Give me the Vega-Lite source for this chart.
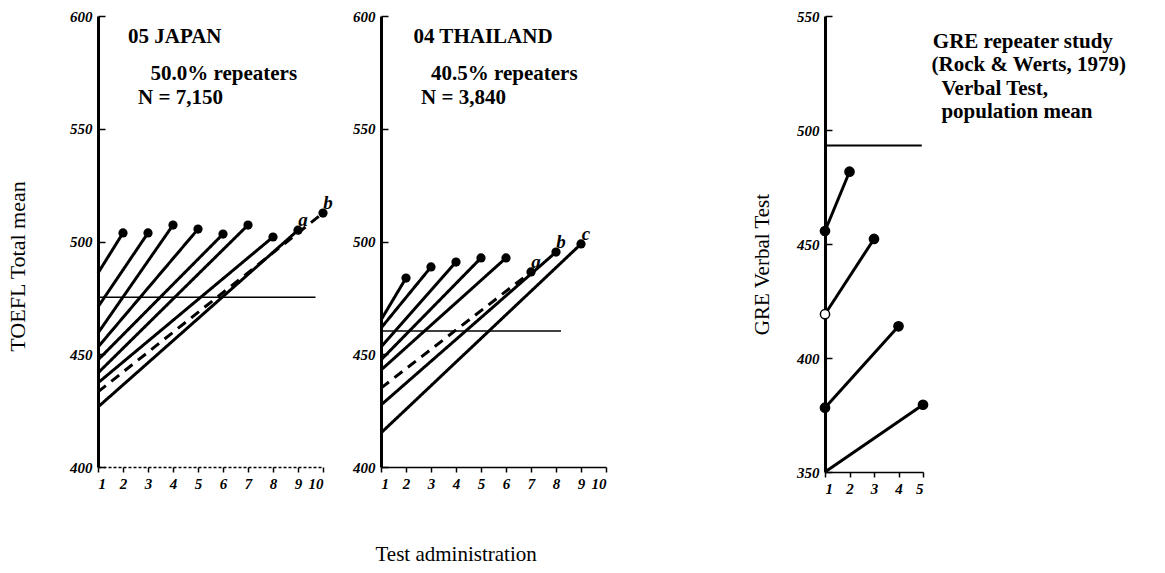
{
  "$schema": "https://vega.github.io/schema/vega-lite/v6.json",
  "background": "white",
  "padding": {"left": 6, "top": 9, "right": 5, "bottom": 5},
  "config": {
    "view": {"stroke": null},
    "font": "Liberation Serif",
    "axis": {
      "grid": false,
      "domainColor": "black",
      "tickColor": "black",
      "labelColor": "black",
      "titleColor": "black",
      "labelFont": "Liberation Serif",
      "labelFontStyle": "italic",
      "labelFontWeight": "bold",
      "labelFontSize": 15,
      "titleFont": "Liberation Serif",
      "titleFontWeight": "normal",
      "titleFontSize": 21
    },
    "axisX": {"domainWidth": 1.5, "tickWidth": 1.5, "tickSize": 5, "labelPadding": 4, "title": null},
    "axisY": {"domainWidth": 3, "tickWidth": 1.5, "tickSize": -7, "labelPadding": 13}
  },
  "datasets": {
    "curves": [
      {"panel": "Japan", "curve": "2", "test": 1, "score": 486.0},
      {"panel": "Japan", "curve": "2", "test": 2, "score": 503.8},
      {"panel": "Japan", "curve": "3", "test": 1, "score": 471.0},
      {"panel": "Japan", "curve": "3", "test": 3, "score": 503.8},
      {"panel": "Japan", "curve": "4", "test": 1, "score": 459.4},
      {"panel": "Japan", "curve": "4", "test": 4, "score": 507.3},
      {"panel": "Japan", "curve": "5", "test": 1, "score": 453.2},
      {"panel": "Japan", "curve": "5", "test": 5, "score": 505.5},
      {"panel": "Japan", "curve": "6", "test": 1, "score": 447.5},
      {"panel": "Japan", "curve": "6", "test": 6, "score": 503.3},
      {"panel": "Japan", "curve": "7", "test": 1, "score": 441.7},
      {"panel": "Japan", "curve": "7", "test": 7, "score": 507.3},
      {"panel": "Japan", "curve": "8", "test": 1, "score": 437.3},
      {"panel": "Japan", "curve": "8", "test": 8, "score": 502.0},
      {"panel": "Japan", "curve": "a", "test": 1, "score": 426.6},
      {"panel": "Japan", "curve": "a", "test": 9, "score": 505.0},
      {"panel": "Japan", "curve": "b", "test": 1, "score": 433.3},
      {"panel": "Japan", "curve": "b", "test": 10, "score": 512.6},
      {"panel": "Thailand", "curve": "2", "test": 1, "score": 465.2},
      {"panel": "Thailand", "curve": "2", "test": 2, "score": 483.8},
      {"panel": "Thailand", "curve": "3", "test": 1, "score": 461.6},
      {"panel": "Thailand", "curve": "3", "test": 3, "score": 488.7},
      {"panel": "Thailand", "curve": "4", "test": 1, "score": 453.2},
      {"panel": "Thailand", "curve": "4", "test": 4, "score": 490.9},
      {"panel": "Thailand", "curve": "5", "test": 1, "score": 447.5},
      {"panel": "Thailand", "curve": "5", "test": 5, "score": 492.7},
      {"panel": "Thailand", "curve": "6", "test": 1, "score": 443.0},
      {"panel": "Thailand", "curve": "6", "test": 6, "score": 492.7},
      {"panel": "Thailand", "curve": "a", "test": 1, "score": 435.0},
      {"panel": "Thailand", "curve": "a", "test": 7, "score": 486.5},
      {"panel": "Thailand", "curve": "b", "test": 1, "score": 427.5},
      {"panel": "Thailand", "curve": "b", "test": 8, "score": 495.3},
      {"panel": "Thailand", "curve": "c", "test": 1, "score": 415.1},
      {"panel": "Thailand", "curve": "c", "test": 9, "score": 498.9},
      {"panel": "GRE", "curve": "1", "test": 1, "score": 455.7},
      {"panel": "GRE", "curve": "1", "test": 2, "score": 481.7},
      {"panel": "GRE", "curve": "2", "test": 1, "score": 419.2},
      {"panel": "GRE", "curve": "2", "test": 3, "score": 452.2},
      {"panel": "GRE", "curve": "3", "test": 1, "score": 378.2},
      {"panel": "GRE", "curve": "3", "test": 4, "score": 413.9},
      {"panel": "GRE", "curve": "4", "test": 1, "score": 350.0},
      {"panel": "GRE", "curve": "4", "test": 5, "score": 379.5}
    ],
    "means": [
      {"panel": "Japan", "test": 1, "test_end": 9.7, "score": 475.3},
      {"panel": "Thailand", "test": 1, "test_end": 8.2, "score": 460.3},
      {"panel": "GRE", "test": 1, "test_end": 4.95, "score": 493.2}
    ],
    "notes": [
      {"panel": "Japan", "test": 2.2, "score": 590.5, "text": "05 JAPAN"},
      {"panel": "Japan", "test": 3.1, "score": 574.5, "text": "50.0% repeaters"},
      {"panel": "Japan", "test": 2.6, "score": 563.5, "text": "N = 7,150"},
      {"panel": "Thailand", "test": 2.3, "score": 590.5, "text": "04 THAILAND"},
      {"panel": "Thailand", "test": 3.0, "score": 574.5, "text": "40.5% repeaters"},
      {"panel": "Thailand", "test": 2.6, "score": 563.5, "text": "N = 3,840"},
      {"panel": "GRE", "test": 5.4, "score": 538.6, "text": "GRE repeater study"},
      {"panel": "GRE", "test": 5.35, "score": 528.5, "text": "(Rock & Werts, 1979)"},
      {"panel": "GRE", "test": 5.75, "score": 518.0, "text": "Verbal Test,"},
      {"panel": "GRE", "test": 5.75, "score": 507.9, "text": "population mean"}
    ]
  },
  "title": {
    "text": "Test administration",
    "orient": "bottom",
    "anchor": "start",
    "dx": 369,
    "offset": 48,
    "font": "Liberation Serif",
    "fontSize": 21,
    "fontWeight": "normal",
    "color": "black"
  },
  "spacing": 144,
  "hconcat": [
    {
      "spacing": 19,
      "hconcat": [
        {
          "width": 225,
          "height": 451,
          "encoding": {
            "x": {"field": "test", "type": "quantitative", "scale": {"domain": [1, 10], "nice": false, "zero": false},
                  "axis": {"values": [1, 2, 3, 4, 5, 6, 7, 8, 9, 10], "domainDash": [3, 2], "title": null}},
            "y": {"field": "score", "type": "quantitative", "scale": {"domain": [400, 600], "nice": false, "zero": false},
                  "axis": {"values": [400, 450, 500, 550, 600], "title": "TOEFL Total mean", "titlePadding": 40, "titleY": 250, "titleFontSize": 22}}
          },
          "layer": [
            {
              "data": {"name": "means"},
              "transform": [{"filter": "datum.panel === 'Japan'"}],
              "mark": {"type": "rule", "color": "black", "strokeWidth": 1.5},
              "encoding": {"x2": {"field": "test_end"}}
            },
            {
              "data": {"name": "curves"},
              "transform": [{"filter": "datum.panel === 'Japan'"}],
              "mark": {"type": "line", "color": "black", "strokeWidth": 3},
              "encoding": {
                "detail": {"field": "curve"},
                "strokeDash": {"condition": {"test": "datum.curve === 'b'", "value": [10, 7]}, "value": [1, 0]}
              }
            },
            {
              "data": {"name": "curves"},
              "transform": [{"filter": "datum.panel === 'Japan' && datum.test > 1"}],
              "mark": {"type": "point", "filled": true, "color": "black", "size": 85, "opacity": 1},
              "encoding": {}
            },
            {
              "data": {"name": "curves"},
              "transform": [{"filter": "datum.panel === 'Japan' && datum.test > 1 && (datum.curve === 'a' || datum.curve === 'b')"}],
              "mark": {"type": "text", "color": "black", "fontSize": 19, "fontStyle": "italic", "fontWeight": "bold", "dx": 5, "dy": -10},
              "encoding": {"text": {"field": "curve"}}
            },
            {
              "data": {"name": "notes"},
              "transform": [{"filter": "datum.panel === 'Japan'"}],
              "mark": {"type": "text", "align": "left", "baseline": "middle", "color": "black", "fontSize": 21, "fontWeight": "bold"},
              "encoding": {"text": {"field": "text"}}
            }
          ]
        },
        {
          "width": 225,
          "height": 451,
          "encoding": {
            "x": {"field": "test", "type": "quantitative", "scale": {"domain": [1, 10], "nice": false, "zero": false},
                  "axis": {"values": [1, 2, 3, 4, 5, 6, 7, 8, 9, 10], "title": null}},
            "y": {"field": "score", "type": "quantitative", "scale": {"domain": [400, 600], "nice": false, "zero": false},
                  "axis": {"values": [400, 450, 500, 550, 600], "title": null}}
          },
          "layer": [
            {
              "data": {"name": "means"},
              "transform": [{"filter": "datum.panel === 'Thailand'"}],
              "mark": {"type": "rule", "color": "black", "strokeWidth": 1.5},
              "encoding": {"x2": {"field": "test_end"}}
            },
            {
              "data": {"name": "curves"},
              "transform": [{"filter": "datum.panel === 'Thailand'"}],
              "mark": {"type": "line", "color": "black", "strokeWidth": 3},
              "encoding": {
                "detail": {"field": "curve"},
                "strokeDash": {"condition": {"test": "datum.curve === 'a'", "value": [10, 7]}, "value": [1, 0]}
              }
            },
            {
              "data": {"name": "curves"},
              "transform": [{"filter": "datum.panel === 'Thailand' && datum.test > 1"}],
              "mark": {"type": "point", "filled": true, "color": "black", "size": 85, "opacity": 1},
              "encoding": {}
            },
            {
              "data": {"name": "curves"},
              "transform": [{"filter": "datum.panel === 'Thailand' && datum.test > 1 && (datum.curve === 'a' || datum.curve === 'b' || datum.curve === 'c')"}],
              "mark": {"type": "text", "color": "black", "fontSize": 19, "fontStyle": "italic", "fontWeight": "bold", "dx": 5, "dy": -10},
              "encoding": {"text": {"field": "curve"}}
            },
            {
              "data": {"name": "notes"},
              "transform": [{"filter": "datum.panel === 'Thailand'"}],
              "mark": {"type": "text", "align": "left", "baseline": "middle", "color": "black", "fontSize": 21, "fontWeight": "bold"},
              "encoding": {"text": {"field": "text"}}
            }
          ]
        }
      ]
    },
    {
      "width": 98,
      "height": 456,
      "encoding": {
        "x": {"field": "test", "type": "quantitative", "scale": {"domain": [1, 5], "nice": false, "zero": false},
              "axis": {"values": [1, 2, 3, 4, 5], "title": null}},
        "y": {"field": "score", "type": "quantitative", "scale": {"domain": [350, 550], "nice": false, "zero": false},
              "axis": {"values": [350, 400, 450, 500, 550], "title": "GRE Verbal Test", "titlePadding": 24, "titleY": 248}}
      },
      "layer": [
        {
          "data": {"name": "means"},
          "transform": [{"filter": "datum.panel === 'GRE'"}],
          "mark": {"type": "rule", "color": "black", "strokeWidth": 2},
          "encoding": {"x2": {"field": "test_end"}}
        },
        {
          "data": {"name": "curves"},
          "transform": [{"filter": "datum.panel === 'GRE'"}],
          "mark": {"type": "line", "color": "black", "strokeWidth": 3},
          "encoding": {"detail": {"field": "curve"}}
        },
        {
          "data": {"name": "curves"},
          "transform": [{"filter": "datum.panel === 'GRE' && !(datum.test === 1 && datum.score <= 350)"}],
          "mark": {"type": "point", "filled": true, "color": "black", "stroke": "black", "strokeWidth": 1.5, "size": 85, "opacity": 1},
          "encoding": {
            "fill": {"condition": {"test": "datum.curve === '2' && datum.test === 1", "value": "white"}, "value": "black"}
          }
        },
        {
          "data": {"name": "notes"},
          "transform": [{"filter": "datum.panel === 'GRE'"}],
          "mark": {"type": "text", "align": "left", "baseline": "middle", "color": "black", "fontSize": 21, "fontWeight": "bold"},
          "encoding": {"text": {"field": "text"}}
        }
      ]
    }
  ]
}
